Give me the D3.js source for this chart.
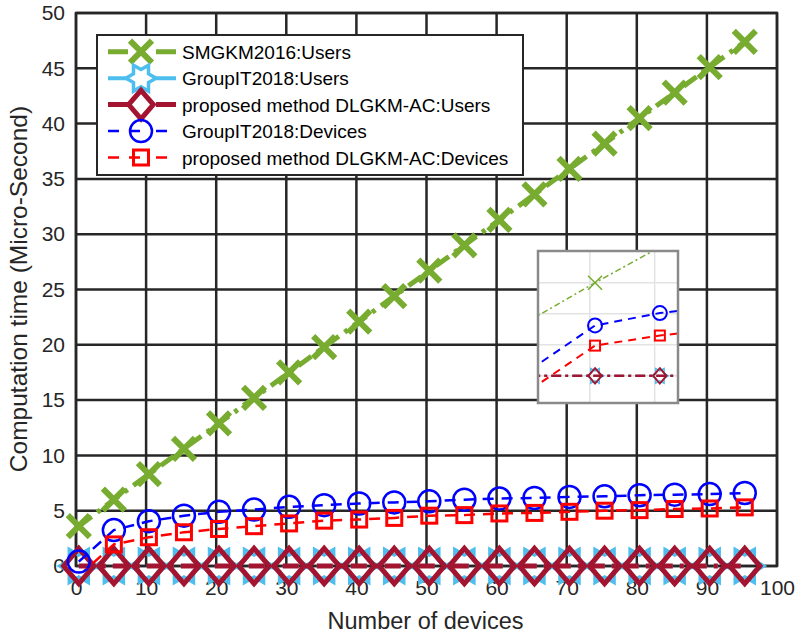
<!DOCTYPE html>
<html>
<head>
<meta charset="utf-8">
<script src="https://cdn.jsdelivr.net/npm/d3@7"></script>
<style>
  html, body { margin: 0; padding: 0; background: #fff; }
  svg { display: block; font-family: "Liberation Sans", Arial, sans-serif; }
</style>
</head>
<body>
<svg id="chart" width="796" height="637"></svg>
<script>
// ---------------- data ----------------
const xs = [0.4, 5.4, 10.4, 15.4, 20.4, 25.4, 30.4, 35.4, 40.4, 45.4, 50.4, 55.4, 60.4, 65.4, 70.4, 75.4, 80.4, 85.4, 90.4, 95.4];
const smgkmUsers = [3.6, 6.0, 8.3, 10.6, 12.9, 15.2, 17.5, 19.8, 22.1, 24.4, 26.7, 29.0, 31.3, 33.6, 35.9, 38.2, 40.5, 42.8, 45.1, 47.4];
const groupitUsers = [0, 0, 0, 0, 0, 0, 0, 0, 0, 0, 0, 0, 0, 0, 0, 0, 0, 0, 0, 0];
const dlgkmUsers = [0, 0, 0, 0, 0, 0, 0, 0, 0, 0, 0, 0, 0, 0, 0, 0, 0, 0, 0, 0];
const groupitDevices = [0.4, 3.25, 4.05, 4.55, 4.9, 5.1, 5.35, 5.5, 5.65, 5.75, 5.85, 6.0, 6.1, 6.15, 6.25, 6.3, 6.4, 6.45, 6.5, 6.6];
const dlgkmDevices = [-0.9, 1.95, 2.6, 3.05, 3.35, 3.6, 3.85, 4.1, 4.2, 4.35, 4.55, 4.6, 4.75, 4.8, 4.9, 5.0, 5.05, 5.15, 5.2, 5.3];
const seriesNames = ["SMGKM2016:Users", "GroupIT2018:Users", "proposed method DLGKM-AC:Users", "GroupIT2018:Devices", "proposed method DLGKM-AC:Devices"];
const xTicks = [0, 10, 20, 30, 40, 50, 60, 70, 80, 90, 100];
const yTicks = [0, 5, 10, 15, 20, 25, 30, 35, 40, 45, 50];
const insetXTicks = [5, 10];
const insetYTicks = [0, 2, 4, 6];
const xLabel = "Number of devices";
const yLabel = "Computation time (Micro-Second)";

// ---------------- styles ----------------
const styles = [
  { values: smgkmUsers, color: "#77AC30", width: 5, dash: "16,7,4,7", marker: "x", ms: 11, msw: 6,
    inset: { width: 1.5, dash: "6,3,2,3", ms: 7, msw: 1.5 } },
  { values: groupitUsers, color: "#4DBEEE", width: 4, dash: "16,7,4,7", marker: "hexagram", ms: 19, msw: 3.5,
    inset: { width: 2, dash: "10,4,3,4", ms: 8.5, msw: 1.5 } },
  { values: dlgkmUsers, color: "#A2142F", width: 5, dash: "16,7,4,7", marker: "diamond", ms: 16, msw: 5,
    inset: { width: 2.5, dash: "10,4,3,4", ms: 7, msw: 2 } },
  { values: groupitDevices, color: "#0000FF", width: 2.5, dash: "11,8", marker: "circle", ms: 11, msw: 2.5,
    inset: { width: 2, dash: "8,6", ms: 7, msw: 2 } },
  { values: dlgkmDevices, color: "#FF0000", width: 2.5, dash: "11,8", marker: "square", ms: 7.5, msw: 3,
    inset: { width: 2, dash: "8,6", ms: 5, msw: 2 } }
];

const svg = d3.select("#chart");
const L = 76, R = 777, T = 13, B = 566;
const x = d3.scaleLinear().domain([0, 100]).range([L, R]);
const y = d3.scaleLinear().domain([0, 50]).range([B, T]);
const ink = "#262626";

function hexagramPath(r) {
  const ri = r / Math.sqrt(3);
  const pts = [];
  for (let k = 0; k < 12; k++) {
    const a = (k * 30) * Math.PI / 180;
    const rr = k % 2 === 0 ? r : ri;
    pts.push([rr * Math.cos(a), rr * Math.sin(a)]);
  }
  return "M" + pts.map(p => p[0].toFixed(2) + "," + p[1].toFixed(2)).join("L") + "Z";
}

function drawMarker(g, type, cx, cy, s, color, sw) {
  let el;
  if (type === "x") {
    el = g.append("path").attr("d", `M${-s},${-s}L${s},${s}M${-s},${s}L${s},${-s}`);
  } else if (type === "circle") {
    el = g.append("circle").attr("r", s);
  } else if (type === "square") {
    el = g.append("rect").attr("x", -s).attr("y", -s).attr("width", 2 * s).attr("height", 2 * s);
  } else if (type === "diamond") {
    el = g.append("path").attr("d", `M0,${-s * 1.1}L${s * 0.95},0L0,${s * 1.1}L${-s * 0.95},0Z`);
  } else if (type === "hexagram") {
    el = g.append("path").attr("d", hexagramPath(s));
  }
  el.attr("transform", `translate(${cx},${cy})`)
    .attr("fill", "none").attr("stroke", color).attr("stroke-width", sw)
    .attr("stroke-linejoin", "miter");
}

// ---------------- grid & box ----------------
const defs = svg.append("defs");
defs.append("clipPath").attr("id", "plotClip").append("rect")
  .attr("x", L - 3).attr("y", T - 3).attr("width", R - L + 6).attr("height", B - T + 6);

const grid = svg.append("g");
grid.selectAll("line.vx").data(xTicks).join("line")
  .attr("x1", d => x(d)).attr("x2", d => x(d)).attr("y1", T).attr("y2", B)
  .attr("stroke", ink).attr("stroke-width", 2.5);
grid.selectAll("line.hy").data(yTicks).join("line")
  .attr("y1", d => y(d)).attr("y2", d => y(d)).attr("x1", L).attr("x2", R)
  .attr("stroke", ink).attr("stroke-width", 2.5);
svg.append("rect").attr("x", L).attr("y", T).attr("width", R - L).attr("height", B - T)
  .attr("fill", "none").attr("stroke", ink).attr("stroke-width", 2.5);

// axes labels via d3 axes
const xAxis = svg.append("g").attr("transform", `translate(0,${B})`)
  .call(d3.axisBottom(x).tickValues(xTicks).tickSize(0).tickPadding(14).tickFormat(d3.format("d")));
xAxis.select(".domain").remove();
xAxis.selectAll("text").attr("font-size", 21).attr("fill", ink).attr("font-family", "Liberation Sans, Arial, sans-serif");

const yAxis = svg.append("g").attr("transform", `translate(${L},0)`)
  .call(d3.axisLeft(y).tickValues(yTicks).tickSize(0).tickPadding(11).tickFormat(d3.format("d")));
yAxis.select(".domain").remove();
yAxis.selectAll("text").attr("font-size", 21).attr("fill", ink).attr("font-family", "Liberation Sans, Arial, sans-serif");

svg.append("text").attr("x", (L + R) / 2 - 1).attr("y", 629).attr("text-anchor", "middle")
  .attr("font-size", 23.5).attr("fill", ink).text(xLabel);
svg.append("text").attr("transform", "translate(27,289) rotate(-90)").attr("text-anchor", "middle")
  .attr("font-size", 24.5).attr("fill", ink).text(yLabel);

// ---------------- series ----------------
const plot = svg.append("g");
styles.forEach(st => {
  const pts = xs.map((xv, i) => [xv, st.values[i]]);
  const line = d3.line().x(d => x(d[0])).y(d => y(d[1]));
  plot.append("path").datum(pts).attr("d", line)
    .attr("clip-path", "url(#plotClip)")
    .attr("fill", "none").attr("stroke", st.color).attr("stroke-width", st.width)
    .attr("stroke-dasharray", st.dash);
  const mg = plot.append("g");
  pts.forEach(p => {
    if (p[1] < 0 || p[1] > 50) return;
    drawMarker(mg, st.marker, x(p[0]), y(p[1]), st.ms, st.color, st.msw);
  });
});

// ---------------- inset ----------------
const IL = 538, IR = 678, IT = 251, IB = 403;
const ix = d3.scaleLinear().domain([1, 11.8]).range([IL, IR]);
const iy = d3.scaleLinear().domain([-1.75, 8.05]).range([IB, IT]);
defs.append("clipPath").attr("id", "insetClip").append("rect")
  .attr("x", IL).attr("y", IT).attr("width", IR - IL).attr("height", IB - IT);
const inset = svg.append("g");
inset.append("rect").attr("x", IL).attr("y", IT).attr("width", IR - IL).attr("height", IB - IT)
  .attr("fill", "#fff");
inset.selectAll("line.ivx").data(insetXTicks).join("line")
  .attr("x1", d => ix(d)).attr("x2", d => ix(d)).attr("y1", IT).attr("y2", IB)
  .attr("stroke", "#e3e3e3").attr("stroke-width", 1.5);
inset.selectAll("line.ihy").data(insetYTicks).join("line")
  .attr("y1", d => iy(d)).attr("y2", d => iy(d)).attr("x1", IL).attr("x2", IR)
  .attr("stroke", "#e3e3e3").attr("stroke-width", 1.5);
styles.forEach(st => {
  const pts = xs.map((xv, i) => [xv, st.values[i]]);
  const line = d3.line().x(d => ix(d[0])).y(d => iy(d[1]));
  inset.append("path").datum(pts).attr("d", line)
    .attr("clip-path", "url(#insetClip)")
    .attr("fill", "none").attr("stroke", st.color).attr("stroke-width", st.inset.width)
    .attr("stroke-dasharray", st.inset.dash);
  const mg = inset.append("g");
  pts.forEach(p => {
    if (p[0] < 1 || p[0] > 11.8 || p[1] < -1.75 || p[1] > 8.05) return;
    drawMarker(mg, st.marker, ix(p[0]), iy(p[1]), st.inset.ms, st.color, st.inset.msw);
  });
});
inset.append("rect").attr("x", IL).attr("y", IT).attr("width", IR - IL).attr("height", IB - IT)
  .attr("fill", "none").attr("stroke", "#8a8a8a").attr("stroke-width", 2.5);

// ---------------- legend ----------------
const LX = 97, LY = 35, LW = 426, LH = 140;
const leg = svg.append("g");
leg.append("rect").attr("x", LX).attr("y", LY).attr("width", LW).attr("height", LH)
  .attr("fill", "#fff").attr("stroke", ink).attr("stroke-width", 2);
const rowY = d3.scalePoint().domain(seriesNames).range([51.7, 157.5]);
styles.forEach((st, i) => {
  const cy = rowY(seriesNames[i]);
  leg.append("line").attr("x1", 108).attr("x2", 176).attr("y1", cy).attr("y2", cy)
    .attr("stroke", st.color).attr("stroke-width", st.width)
    .attr("stroke-dasharray", st.marker === "circle" || st.marker === "square" ? "11,10,11,16,11,10" : "20,28,20,3,4");
  const ms = st.marker === "diamond" ? 13 : (st.marker === "hexagram" ? 15 : st.ms);
  drawMarker(leg, st.marker, 141, cy, ms, st.color, st.msw);
  leg.append("text").attr("x", 182).attr("y", cy + 7).attr("font-size", 19).attr("fill", "#000")
    .text(seriesNames[i]);
});
</script>
</body>
</html>
